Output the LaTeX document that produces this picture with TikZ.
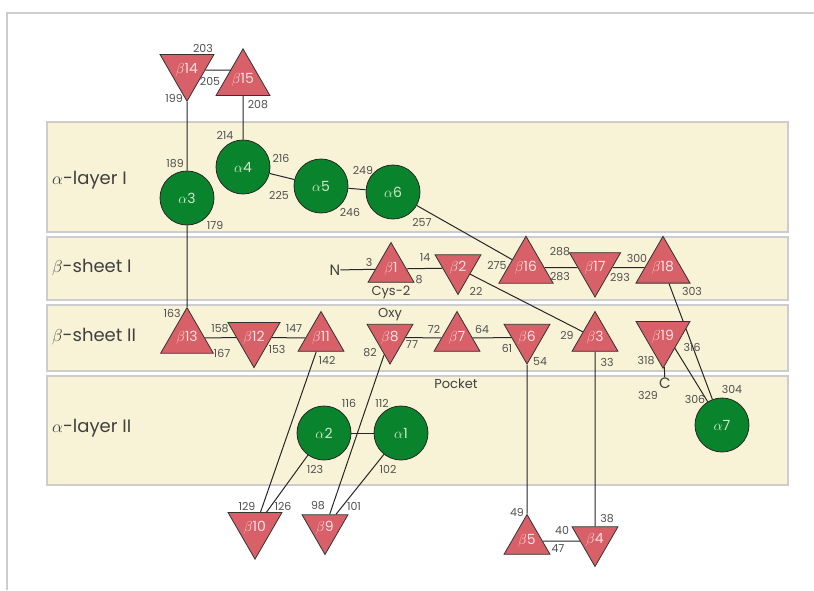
\documentclass[tikz,border=0pt]{standalone}
\usepackage{fontspec}
\setmainfont{Poppins}
\usetikzlibrary{shapes.geometric}
\definecolor{bandfill}{RGB}{248,243,214}
\definecolor{bandline}{RGB}{205,205,205}
\definecolor{trifill}{RGB}{216,96,104}
\definecolor{trilabel}{RGB}{252,225,225}
\definecolor{helfill}{RGB}{10,132,44}
\definecolor{hellabel}{RGB}{205,235,205}
\definecolor{numgray}{RGB}{80,80,80}
\definecolor{framegray}{RGB}{205,205,205}
\pgfdeclarelayer{bands}
\pgfdeclarelayer{links}
\pgfsetlayers{bands,links,main}
\tikzset{
  upstrand/.style={regular polygon, regular polygon sides=3, minimum size=53pt,
    inner sep=0pt, fill=trifill, draw=black!80, line width=0.8pt, text=trilabel,
    font=\fontsize{14}{14}\selectfont},
  downstrand/.style={upstrand, shape border rotate=180},
  helix/.style={circle, minimum size=54pt, inner sep=0pt, fill=helfill,
    draw=black!85, line width=0.8pt, text=hellabel, font=\fontsize{14}{14}\selectfont},
  num/.style={text=numgray, font=\fontsize{11}{11}\selectfont, inner sep=0pt},
  tag/.style={text=black!75, font=\fontsize{13}{13}\selectfont, inner sep=0pt},
  band/.style={fill=bandfill, draw=bandline, line width=1.5pt},
  bandlabel/.style={anchor=west, text=black!75, font=\fontsize{18}{18}\selectfont, inner sep=0pt},
  link/.style={draw=black!85, line width=1pt}
}
\begin{document}
\begin{tikzpicture}[x=1pt,y=-1pt]
\useasboundingbox (0,0) rectangle (814,590);

\begin{pgfonlayer}{bands}
  \fill[white] (0,0) rectangle (814,590);
  \draw[framegray, line width=1.5pt] (7,590) -- (7,13) -- (814,13);
  \draw[band] (47,122) rectangle (788,232);
  \draw[band] (47,237) rectangle (788,300);
  \draw[band] (47,305) rectangle (788,371);
  \draw[band] (47,376) rectangle (788,485);
\end{pgfonlayer}

\node[bandlabel] (lab1) at (52,180) {$\alpha$-layer I};
\node[bandlabel] (lab2) at (52,268) {$\beta$-sheet I};
\node[bandlabel] (lab3) at (52,337) {$\beta$-sheet II};
\node[bandlabel] (lab4) at (52,428) {$\alpha$-layer II};

% helices
\node[helix] (a3) at (187,198) {$\alpha$3};
\node[helix] (a4) at (243,167) {$\alpha$4};
\node[helix] (a5) at (321,186) {$\alpha$5};
\node[helix] (a6) at (393,192) {$\alpha$6};
\node[helix] (a7) at (722,425) {$\alpha$7};
\node[helix] (a2) at (324,433) {$\alpha$2};
\node[helix] (a1) at (401,433) {$\alpha$1};

% strands
\node[downstrand] (b14) at (187,70) {$\beta$14};
\node[upstrand] (b15) at (243,80) {$\beta$15};
\node[upstrand] (b1) at (391,269) {$\beta$1};
\node[downstrand] (b2) at (458,268) {$\beta$2};
\node[upstrand] (b16) at (526,267.5) {$\beta$16};
\node[downstrand] (b17) at (595,267.5) {$\beta$17};
\node[upstrand] (b18) at (663,267.5) {$\beta$18};
\node[upstrand] (b13) at (187,338) {$\beta$13};
\node[downstrand] (b12) at (254,337.5) {$\beta$12};
\node[upstrand] (b11) at (321,338) {$\beta$11};
\node[downstrand] (b8) at (390,337.5) {$\beta$8};
\node[upstrand] (b7) at (457,338) {$\beta$7};
\node[downstrand] (b6) at (527,337.5) {$\beta$6};
\node[upstrand] (b3) at (595,338) {$\beta$3};
\node[downstrand] (b19) at (663,337) {$\beta$19};
\node[downstrand] (b10) at (255,528) {$\beta$10};
\node[downstrand] (b9) at (325,528) {$\beta$9};
\node[upstrand] (b5) at (527,541) {$\beta$5};
\node[downstrand] (b4) at (595,540) {$\beta$4};

% termini and tags
\node[tag, font=\fontsize{15}{15}\selectfont] (nterm) at (335,270) {N};
\node[tag, font=\fontsize{15}{15}\selectfont] (cterm) at (665,383) {C};
\node[tag] (cys) at (391,292) {Cys-2};
\node[tag] (oxy) at (390,315) {Oxy};
\node[tag] (pocket) at (456,384) {Pocket};

% connectors
\begin{pgfonlayer}{links}
  \draw[link] (b14) -- (b14 -| b15);
  \draw[link] (b14) -- (a3) -- (b13);
  \draw[link] (b15) -- (a4);
  \draw[link] (a4) -- (a5) -- (a6) -- (b16);
  \draw[link] (nterm) -- (b1) -- (b2);
  \draw[link] (b2) -- (b3);
  \draw[link] (b16) -- (b17) -- (b18);
  \draw[link] (b18) -- (a7);
  \draw[link] ([xshift=5pt]b19.center) -- (a7);
  \draw[link] (b19) -- (cterm);
  \draw[link] (b13) -- (b12) -- (b11);
  \draw[link] (b8) -- (b7) -- (b6);
  \draw[link] (b11) -- (b10);
  \draw[link] (a2) -- (b10);
  \draw[link] (b8) -- (b9);
  \draw[link] (a1) -- (b9);
  \draw[link] (a2) -- (a1);
  \draw[link] (b6) -- (b5);
  \draw[link] (b3) -- (b4);
  \draw[link] (b5) -- (b5 -| b4);
\end{pgfonlayer}

% residue numbers
\node[num] (n203) at (203,48) {203};
\node[num] (n205) at (210,81) {205};
\node[num] (n199) at (174,98) {199};
\node[num] (n208) at (258,105) {208};
\node[num] (n214) at (225,135) {214};
\node[num] (n189) at (175,164) {189};
\node[num] (n216) at (281,158) {216};
\node[num] (n225) at (279,195) {225};
\node[num] (n179) at (215,225) {179};
\node[num] (n249) at (363,170) {249};
\node[num] (n246) at (350,212) {246};
\node[num] (n257) at (422,222) {257};
\node[num] (n3) at (369,262) {3};
\node[num] (n8) at (419,280) {8};
\node[num] (n14) at (425,258) {14};
\node[num] (n22) at (476,291) {22};
\node[num] (n275) at (497,265) {275};
\node[num] (n288) at (560,252) {288};
\node[num] (n283) at (560,277) {283};
\node[num] (n293) at (620,277) {293};
\node[num] (n300) at (637,258) {300};
\node[num] (n303) at (692,291) {303};
\node[num] (n163) at (172,313) {163};
\node[num] (n158) at (220,329) {158};
\node[num] (n167) at (222,353) {167};
\node[num] (n153) at (277,349) {153};
\node[num] (n147) at (294,329) {147};
\node[num] (n142) at (327,360) {142};
\node[num] (n82) at (370,353) {82};
\node[num] (n77) at (412,345) {77};
\node[num] (n72) at (434,329) {72};
\node[num] (n64) at (482,329) {64};
\node[num] (n61) at (507,348) {61};
\node[num] (n54) at (540,362) {54};
\node[num] (n29) at (567,335) {29};
\node[num] (n33) at (607,362) {33};
\node[num] (n318) at (646,361) {318};
\node[num] (n316) at (692,347) {316};
\node[num] (n329) at (648,395) {329};
\node[num] (n306) at (695,399) {306};
\node[num] (n304) at (732,389) {304};
\node[num] (n116) at (349,403) {116};
\node[num] (n112) at (382,403) {112};
\node[num] (n123) at (315,469) {123};
\node[num] (n102) at (388,469) {102};
\node[num] (n129) at (247,506) {129};
\node[num] (n126) at (283,506) {126};
\node[num] (n98) at (318,506) {98};
\node[num] (n101) at (354,506) {101};
\node[num] (n49) at (517,512) {49};
\node[num] (n40) at (562,530) {40};
\node[num] (n47) at (558,549) {47};
\node[num] (n38) at (607,519) {38};
\end{tikzpicture}
\end{document}
